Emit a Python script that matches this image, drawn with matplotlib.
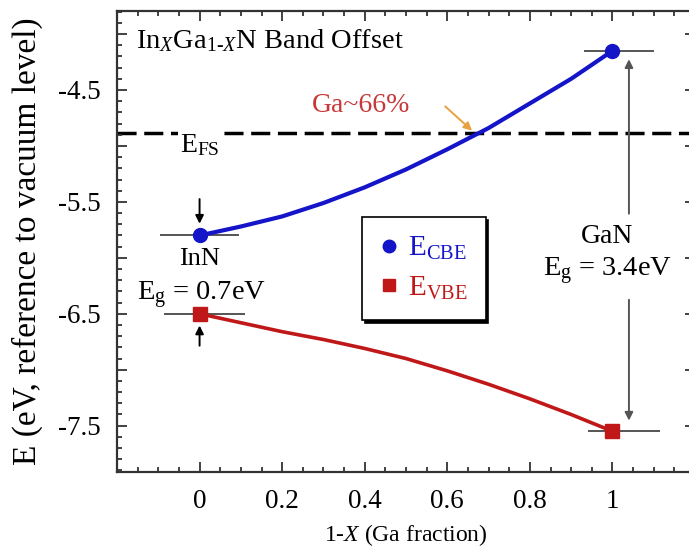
import numpy as np
import matplotlib
matplotlib.use("Agg")
import matplotlib.pyplot as plt
from matplotlib.ticker import MultipleLocator, FuncFormatter

plt.rcParams["font.family"] = "Liberation Serif"
plt.rcParams["mathtext.fontset"] = "custom"
plt.rcParams["mathtext.rm"] = "Liberation Serif"
plt.rcParams["mathtext.it"] = "Liberation Serif:italic"

# Ga fraction (1-X) and band edges of InxGa1-xN, eV below vacuum
ga_frac = [0.0, 0.1, 0.2, 0.3, 0.4, 0.5, 0.6, 0.7, 0.8, 0.9, 1.0]
e_cbe = [-5.80, -5.72, -5.63, -5.51, -5.37, -5.21, -5.03, -4.84, -4.62, -4.40, -4.15]
e_vbe = [-6.50, -6.58, -6.66, -6.73, -6.81, -6.90, -7.01, -7.13, -7.26, -7.40, -7.55]

e_fs = -4.88          # Fermi stabilization level
ga_cross = 0.665      # where E_CBE crosses E_FS

blue = "#1414c8"
red = "#c01818"

fig = plt.figure(figsize=(6.89, 5.51), dpi=100)
ax = fig.add_axes([117 / 689, 1 - 472 / 551, 578 / 689, 461 / 551])

# short reference bars at the binary end points
bar_kw = dict(color="#555555", lw=1.4, zorder=2)
ax.hlines(e_cbe[0], -0.095, 0.095, **bar_kw)
ax.hlines(e_vbe[0], -0.085, 0.11, **bar_kw)
ax.hlines(e_cbe[-1], 0.93, 1.10, **bar_kw)
ax.hlines(e_vbe[-1], 0.94, 1.115, **bar_kw)

# E_FS dashed level
ax.axhline(e_fs, color="black", lw=2.5, ls=(0, (5.5, 2.2)), zorder=1)

# band edge curves
ax.plot(ga_frac, e_cbe, color=blue, lw=3, zorder=3)
ax.plot(ga_frac, e_vbe, color=red, lw=2.6, zorder=3)

ends = [ga_frac[0], ga_frac[-1]]
ax.plot(ends, [e_cbe[0], e_cbe[-1]], "o", color=blue, ms=10, ls="none",
        zorder=4, label=r"E$_{\rm CBE}$")
ax.plot(ends, [e_vbe[0], e_vbe[-1]], "s", color=red, ms=10, ls="none",
        zorder=4, label=r"E$_{\rm VBE}$")

# arrows marking the InN gap
ak = dict(arrowstyle="-|>", color="black", lw=1.4, mutation_scale=12)
ax.annotate("", xy=(0, -5.72), xytext=(0, -5.45), arrowprops=ak)
ax.annotate("", xy=(0, -6.58), xytext=(0, -6.81), arrowprops=ak)

# GaN gap arrows
gk = dict(arrowstyle="-|>", color="#555555", lw=1.4, mutation_scale=12)
ax.annotate("", xy=(1.04, -4.20), xytext=(1.04, -5.63), arrowprops=gk)
ax.annotate("", xy=(1.04, -7.48), xytext=(1.04, -6.35), arrowprops=gk)

# crossing point
ax.annotate("", xy=(ga_cross, e_fs), xytext=(0.59, -4.63),
            arrowprops=dict(arrowstyle="-|>", color="#e8a040", lw=1.4,
                            mutation_scale=12))
ax.text(0.39, -4.70, "Ga~66%", color="#c83838", fontsize=20, ha="center",
        va="baseline")

ax.text(-0.155, -4.125, r"In$_{X}$Ga$_{1\text{-}X}$N Band Offset",
        fontsize=20.5, ha="left", va="baseline")
ax.text(-0.047, -5.054, r"E$_{\rm FS}$", fontsize=20, ha="left", va="baseline",
        bbox=dict(facecolor="white", edgecolor="none", pad=1.5), zorder=2)
ax.text(0.0, -6.06, "InN", fontsize=19, ha="center", va="baseline")
ax.text(-0.151, -6.377, r"E$_{\rm g}$ = 0.7eV", fontsize=20.5, ha="left",
        va="baseline")
ax.text(0.988, -5.867, "GaN", fontsize=20, ha="center", va="baseline")
ax.text(0.988, -6.162, r"E$_{\rm g}$ = 3.4eV", fontsize=20.5, ha="center",
        va="baseline")

leg = ax.legend(loc="upper left", bbox_to_anchor=(0.424, 0.553), fontsize=21,
                frameon=True, fancybox=False, edgecolor="black",
                shadow={"color": "black", "alpha": 1}, handlelength=0.6,
                handletextpad=0.35, borderpad=0.62, labelspacing=0.42,
                markerscale=0.9, borderaxespad=0)
leg.get_frame().set_linewidth(1.2)
for t, c in zip(leg.get_texts(), [blue, red]):
    t.set_color(c)

ax.set_xlim(-0.2, 1.2)
ax.set_ylim(-7.914, -3.794)
ax.set_xticks([0, 0.2, 0.4, 0.6, 0.8, 1.0])
ax.xaxis.set_major_formatter(FuncFormatter(lambda v, p: f"{v:g}"))
ax.xaxis.set_minor_locator(MultipleLocator(0.05))
ax.yaxis.set_major_locator(MultipleLocator(0.5))
ax.yaxis.set_major_formatter(
    FuncFormatter(lambda v, p: f"{v:.1f}" if abs(v * 2) % 2 == 1 else ""))
ax.yaxis.set_minor_locator(MultipleLocator(0.1))
ax.tick_params(which="both", direction="in", top=True, right=True,
               width=1.3, colors="#333333", labelcolor="black", labelsize=19.5)
ax.tick_params(which="major", length=7, pad=12)
ax.tick_params(which="minor", length=3.5)
for s in ax.spines.values():
    s.set_linewidth(1.6)
    s.set_color("#333333")

ax.set_xlabel(r"1-$X$ (Ga fraction)", fontsize=17, labelpad=6)
ax.set_ylabel("E (eV, reference to vacuum level)", fontsize=24)
ax.yaxis.set_label_coords(-0.128, 0.5)

fig.savefig("out.png", dpi=100)
